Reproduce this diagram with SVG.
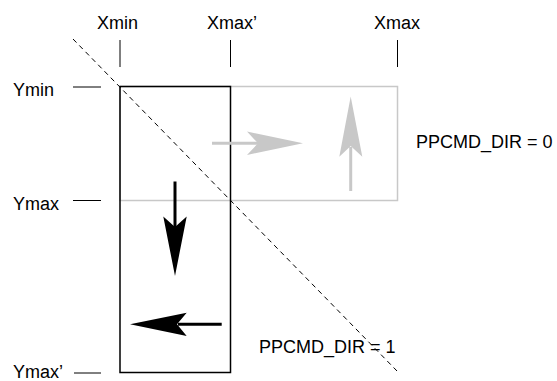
<svg xmlns="http://www.w3.org/2000/svg" width="557" height="381" viewBox="0 0 557 381">
<style>
text{font-family:"Liberation Sans",Arial,sans-serif;font-size:18px;fill:#000}
.tick{stroke:#000;stroke-width:1}
.gray{stroke:#c8c8c8;fill:none;stroke-width:1.5}
.blk{stroke:#000;fill:none;stroke-width:1.5}
</style>
<rect width="557" height="381" fill="#fff"/>
<g id="labels">
<text x="97" y="29">Xmin</text>
<text x="207" y="29">Xmax’</text>
<text x="374" y="29">Xmax</text>
<text x="13" y="96">Ymin</text>
<text x="13" y="210">Ymax</text>
<text x="13" y="377.5">Ymax’</text>
<text x="416" y="148">PPCMD_DIR = 0</text>
<text x="259" y="353">PPCMD_DIR = 1</text>
</g>
<g id="ticks">
<line class="tick" x1="120" y1="40" x2="120" y2="67"/>
<line class="tick" x1="230.5" y1="40" x2="230.5" y2="67"/>
<line class="tick" x1="397.5" y1="40" x2="397.5" y2="67"/>
<line class="tick" x1="73" y1="87" x2="101" y2="87"/>
<line class="tick" x1="73" y1="200.5" x2="101" y2="200.5"/>
<line class="tick" x1="74" y1="373" x2="101" y2="373" stroke="#555"/>
</g>
<g id="rect-dir0">
<rect class="gray" x="120" y="86.5" width="277.5" height="114"/>
</g>
<g id="rect-dir1">
<rect class="blk" x="120" y="86.5" width="110.5" height="286"/>
</g>
<g id="connectors">
<line x1="73" y1="39" x2="397" y2="371" stroke="#000" stroke-width="1" stroke-dasharray="5,4"/>
<line x1="212" y1="143.3" x2="258" y2="143.3" stroke="#c8c8c8" stroke-width="3"/>
<polygon points="303,143.3 247,131.5 258,143.3 247,155" fill="#c8c8c8"/>
<line x1="350.7" y1="191" x2="350.7" y2="147" stroke="#c8c8c8" stroke-width="3"/>
<polygon points="350.7,96.5 339.3,156.7 350.7,146 362.3,156.7" fill="#c8c8c8"/>
<line x1="175" y1="181.5" x2="175" y2="227" stroke="#000" stroke-width="3"/>
<polygon points="175,276 163.3,216.5 175,227 186.7,216.5" fill="#000"/>
<line x1="221.7" y1="324.3" x2="178" y2="324.3" stroke="#000" stroke-width="3"/>
<polygon points="130,324.3 186.7,312.7 177,324.3 186.7,336" fill="#000"/>
</g>
</svg>
